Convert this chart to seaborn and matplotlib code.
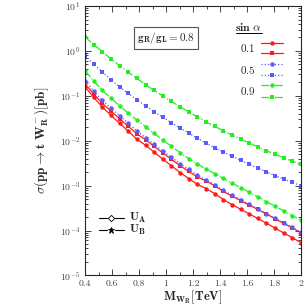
import numpy as np
import pandas as pd
import matplotlib
matplotlib.use("Agg")
import matplotlib.pyplot as plt
import matplotlib.ticker as mticker
import seaborn as sns

# ==============================
# Data
# ==============================
mass = [0.400, 0.464, 0.528, 0.592, 0.656, 0.720, 0.784, 0.848, 0.912, 0.976,
        1.040, 1.104, 1.168, 1.232, 1.296, 1.360, 1.424, 1.488, 1.552, 1.616,
        1.680, 1.744, 1.808, 1.872, 1.936, 2.000]

# sin(alpha) = 0.9
s09_UB = [2.05, 1.39, 0.97, 0.66, 0.47, 0.336, 0.244, 0.178, 0.132, 0.0995,
          0.0751, 0.0573, 0.0441, 0.0338, 0.0264, 0.0209, 0.0167, 0.0135, 0.0109, 0.00889,
          0.00728, 0.0060, 0.00499, 0.00417, 0.0035, 0.00296]
s09_UA = [0.359, 0.215, 0.1325, 0.0889, 0.060, 0.0413, 0.029, 0.0206, 0.01453, 0.01037,
          0.00751, 0.00541, 0.00402, 0.00304, 0.00235, 0.00185, 0.001445, 0.001137, 0.000903, 0.000713,
          0.000561, 0.000441, 0.000347, 0.000274, 0.000216, 0.000169]
# sin(alpha) = 0.5
s05_UB = [0.775, 0.505, 0.342, 0.228, 0.158, 0.113, 0.082, 0.0598, 0.0444, 0.0334,
          0.0252, 0.01925, 0.01482, 0.01136, 0.00887, 0.00702, 0.00561, 0.00454, 0.00366, 0.00299,
          0.00245, 0.00202, 0.00168, 0.0014, 0.00118, 0.000995]
s05_UA = [0.215, 0.1288, 0.0794, 0.0532, 0.0359, 0.0247, 0.01653, 0.01174, 0.00828, 0.00591,
          0.00428, 0.00308, 0.00229, 0.00173, 0.00134, 0.001055, 0.000782, 0.000615, 0.000489, 0.000386,
          0.000303, 0.000239, 0.000188, 0.000148, 0.000117, 0.0000914]
# sin(alpha) = 0.1
s01_UB = [0.1845, 0.1105, 0.0681, 0.0456, 0.0308, 0.0212, 0.01418, 0.0106, 0.00748, 0.00534,
          0.00386, 0.00278, 0.00207, 0.00156, 0.00127, 0.0010, 0.000743, 0.000584, 0.000465, 0.000367,
          0.000295, 0.000233, 0.000183, 0.000144, 0.000114, 0.0000891]
s01_UA = [0.1583, 0.0928, 0.0560, 0.0368, 0.0243, 0.0164, 0.0108, 0.00796, 0.00553, 0.00389,
          0.00277, 0.00196, 0.00144, 0.00107, 0.000861, 0.000667, 0.000491, 0.00038, 0.000299, 0.000234,
          0.000186, 0.000145, 0.000113, 0.0000881, 0.0000691, 0.0000534]

sin_labels = ["0.1", "0.5", "0.9"]
xticks = [0.4, 0.6, 0.8, 1.0, 1.2, 1.4, 1.6, 1.8, 2.0]

# ==============================
# Style
# ==============================
sns.set_style("ticks")
plt.rcParams["font.family"] = ["cmr10", "DejaVu Serif"]
plt.rcParams["mathtext.fontset"] = "cm"
plt.rcParams["axes.formatter.use_mathtext"] = True
plt.rcParams["axes.unicode_minus"] = False

RED = "#ff1a1a"
BLUE = "#5a5aff"
GREEN = "#22ee22"

fig = plt.figure(figsize=(3.05, 3.05), dpi=100)
ax = fig.add_axes([0.279, 0.097, 0.708, 0.883])

curves = [
    (s01_UA, RED, "-", "o", 3.2),
    (s01_UB, RED, "-", "s", 2.8),
    (s05_UA, BLUE, ":", "o", 3.2),
    (s05_UB, BLUE, ":", "s", 2.8),
    (s09_UA, GREEN, "-.", "o", 3.2),
    (s09_UB, GREEN, "-.", "s", 2.8),
]
for vals, col, ls, mk, ms in curves:
    df = pd.DataFrame({"M": mass, "sigma": vals})
    sns.lineplot(data=df, x="M", y="sigma", ax=ax, color=col, linestyle=ls,
                 linewidth=0.9, marker=mk, markersize=ms, markeredgewidth=0,
                 legend=False)

ax.set_yscale("log")
ax.set_xlim(0.4, 2.0)
ax.set_ylim(1e-5, 10)
ax.set_xticks(xticks)
ax.xaxis.set_major_formatter(mticker.FuncFormatter(lambda v, p: "%g" % v))
ax.xaxis.set_minor_locator(mticker.MultipleLocator(0.1))
ax.yaxis.set_minor_locator(mticker.LogLocator(base=10, subs=np.arange(2, 10), numticks=20))
ax.yaxis.set_minor_formatter(mticker.NullFormatter())
ax.tick_params(which="both", direction="in", top=True, right=True,
               labelsize=7, labelcolor="#444444", width=0.6)
ax.tick_params(axis="x", pad=3)
ax.tick_params(axis="y", pad=3.5)
ax.tick_params(which="major", length=4)
ax.tick_params(which="minor", length=2)
for sp in ax.spines.values():
    sp.set_linewidth(0.8)

ax.set_xlabel(r"$\mathbf{M_{W_R}[TeV]}$", fontsize=9, labelpad=0)
ax.set_ylabel(r"$\sigma(\mathbf{pp}\rightarrow\mathbf{t\ W_R^-})[\mathbf{pb}]$",
              fontsize=9.5, labelpad=6)

# g_R/g_L box
ax.text(0.375, 0.881, r"$\mathbf{g_R/g_L = 0.8}$", transform=ax.transAxes,
        ha="center", va="center", fontsize=8,
        bbox=dict(boxstyle="square,pad=0.3", fc="white", ec="#555555", lw=0.8))

# sin(alpha) legend (top right)
ax.text(0.757, 0.922, r"$\mathbf{sin}\ \alpha$", transform=ax.transAxes,
        ha="center", va="center", fontsize=8.5)
ax.plot([0.70, 0.82], [0.900, 0.900], transform=ax.transAxes, color="black", lw=0.7)
leg_rows = [
    (sin_labels[0], RED, "-", 0.844, 0.863, 0.826),
    (sin_labels[1], BLUE, ":", 0.763, 0.784, 0.744),
    (sin_labels[2], GREEN, "-.", 0.685, 0.707, 0.664),
]
for lab, col, ls, ylab, y1, y2 in leg_rows:
    ax.text(0.755, ylab, r"$\mathbf{%s}$" % lab, transform=ax.transAxes,
            ha="center", va="center", fontsize=8)
    for yy, mk, ms in [(y1, "o", 3.2), (y2, "s", 2.8)]:
        ax.plot([0.815, 0.917], [yy, yy], transform=ax.transAxes, color=col,
                linestyle=ls, lw=0.9)
        ax.plot([0.866], [yy], transform=ax.transAxes, color=col, marker=mk,
                markersize=ms, markeredgewidth=0)

# U_A / U_B legend (lower left)
for yy, mk, ms, mfc, lab in [(0.215, "D", 3.2, "white", r"$\mathbf{U_A}$"),
                             (0.167, "*", 4.5, "black", r"$\mathbf{U_B}$")]:
    ax.plot([0.065, 0.10], [yy, yy], transform=ax.transAxes, color="black", lw=0.8)
    ax.plot([0.14, 0.178], [yy, yy], transform=ax.transAxes, color="black", lw=0.8)
    ax.plot([0.12], [yy], transform=ax.transAxes, color="black", marker=mk,
            markersize=ms, markerfacecolor=mfc, markeredgewidth=0.6)
    ax.text(0.205, yy, lab, transform=ax.transAxes, ha="left", va="center", fontsize=8.5)

fig.savefig("out.png", dpi=100)
